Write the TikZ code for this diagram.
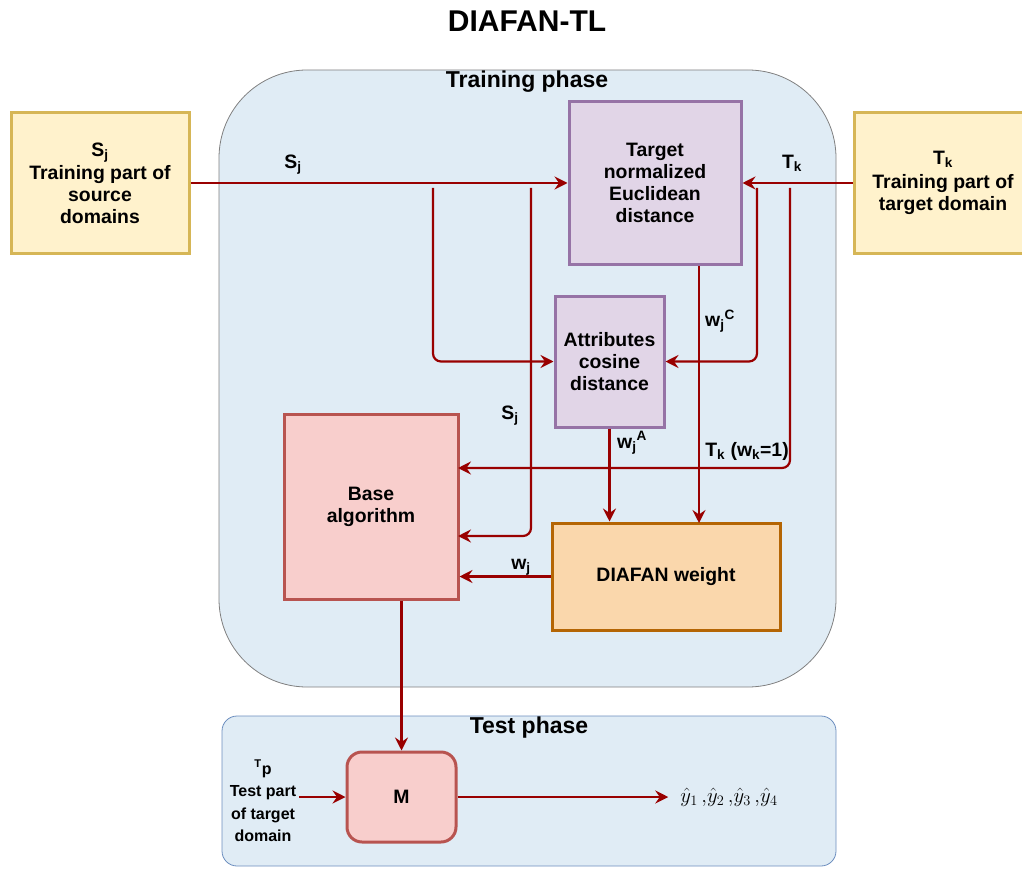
\documentclass[tikz,border=0pt]{standalone}
\usepackage{fontspec}
\setmainfont{Liberation Sans}
\usetikzlibrary{arrows.meta}
\definecolor{arr}{HTML}{990000}
\definecolor{trainbg}{HTML}{E0ECF5}
\definecolor{trainbd}{HTML}{808080}
\definecolor{testbd}{HTML}{6C8EBF}
\definecolor{yelf}{HTML}{FFF2CC}
\definecolor{yeld}{HTML}{D6B656}
\definecolor{purf}{HTML}{E1D5E7}
\definecolor{purd}{HTML}{9673A6}
\definecolor{redf}{HTML}{F8CECC}
\definecolor{redd}{HTML}{B85450}
\definecolor{oraf}{HTML}{FAD7AC}
\definecolor{orad}{HTML}{B46504}
\begin{document}
\begin{tikzpicture}[x=1pt,y=-1pt,
  txt/.style={font=\fontsize{19.4}{22}\selectfont\bfseries, align=center, inner sep=0pt},
  boxbase/.style={txt, line width=3pt, minimum width=#1},
  yelbox/.style={boxbase=178pt, fill=yelf, draw=yeld, minimum height=140pt},
  purbox/.style={txt, line width=3pt, fill=purf, draw=purd},
  redbox/.style={txt, line width=3pt, fill=redf, draw=redd},
  orabox/.style={txt, line width=3pt, fill=oraf, draw=orad},
  conn/.style={draw=arr, line width=2.2pt, rounded corners=8pt, -{Stealth[length=13pt,width=13pt,inset=4.5pt]}},
  lbl/.style={txt}
]
\useasboundingbox (0,0) rectangle (1022,869);
\clip (0,0) rectangle (1022,869);

% title
\node[txt, font=\fontsize{30}{34}\selectfont\bfseries] (title) at (527,21) {DIAFAN-TL};

% containers
\node[fill=trainbg, draw=trainbd, line width=0.8pt, rounded corners=88pt, minimum width=617pt, minimum height=617pt, inner sep=0pt] (train) at (527.5,378.5) {};
\node[txt, font=\fontsize{23}{26}\selectfont\bfseries] (trainlbl) at (527,82) {Training phase};
\node[fill=trainbg, draw=testbd, line width=0.8pt, rounded corners=15pt, minimum width=614pt, minimum height=150pt, inner sep=0pt] (test) at (529,791) {};
\node[txt, font=\fontsize{23}{26}\selectfont\bfseries] (testlbl) at (529,728) {Test phase};

% boxes
\node[yelbox] (sj) at (100,183) {S\textsubscript{j}\\[1pt]Training part of\\source\\domains};
\node[yelbox] (tk) at (943,183) {T\textsubscript{k}\\[2pt]Training part of\\target domain};
\node[purbox, minimum width=172pt, minimum height=162pt] (tgt) at (655,183) {Target\\normalized\\Euclidean\\distance};
\node[purbox, minimum width=109pt, minimum height=131pt] (att) at (609.5,361.5) {Attributes\\cosine\\distance};
\node[redbox, minimum width=174pt, minimum height=185pt] (base) at (371,506.5) {Base\\algorithm};
\node[orabox, minimum width=228pt, minimum height=107pt] (dia) at (666,576.5) {DIAFAN weight};
\node[redbox, rounded corners=15pt, minimum width=109pt, minimum height=90pt] (M) at (401.5,797) {M};

\node[txt, font=\fontsize{16}{22.5}\selectfont\bfseries] (tp) at (263,801) {\textsuperscript{T}p\\Test part\\of target\\domain};
\node[inner sep=0pt, font=\fontsize{21}{24}\selectfont] (yh) at (729,797) {$\hat{y}_1\,{,}\hat{y}_2\,{,}\hat{y}_3\,{,}\hat{y}_4$};

% coordinates
\coordinate (s1) at (433,188);
\coordinate (s2) at (531,188);
\coordinate (t1) at (757,188);
\coordinate (t2) at (790,188);
\coordinate (bin1) at (458,468);
\coordinate (bin2) at (458,536);
\coordinate (wc) at (699,523);
\coordinate (tpout) at (299,797);

% connectors
\draw[conn] (sj.east) -- (tgt.west);
\draw[conn] (tk.west) -- (tgt.east);
\draw[conn] (s1) |- (att.west);
\draw[conn] (s2) |- (bin2);
\draw[conn] (t1) |- (att.east);
\draw[conn] (t2) |- (bin1);
\draw[conn] (tgt.south -| wc) -- (wc);
\draw[conn] (att.south) -- (att.south |- dia.north);
\draw[conn] (dia.west) -- (dia.west -| base.east);
\draw[conn] (base.south -| M.north) -- (M.north);
\draw[conn] (tpout) -- (M.west);
\draw[conn] (M.east) -- ([xshift=-12pt]yh.west);

% labels
\node[lbl] (l1) at (293,165) {S\textsubscript{j}};
\node[lbl] (l2) at (792,163) {T\textsubscript{k}};
\node[lbl] (l3) at (510,416) {S\textsubscript{j}};
\node[lbl] (l4) at (720,321) {w\textsubscript{j}\textsuperscript{C}};
\node[lbl] (l5) at (632,443) {w\textsubscript{j}\textsuperscript{A}};
\node[lbl] (l6) at (747,451) {T\textsubscript{k} (w\textsubscript{k}=1)};
\node[lbl] (l7) at (521,567) {w\textsubscript{j}};
\end{tikzpicture}
\end{document}
